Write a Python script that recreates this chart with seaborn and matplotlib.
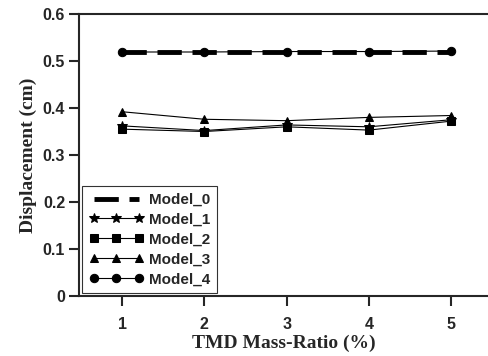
import numpy as np
import pandas as pd
import matplotlib
matplotlib.use("Agg")
import matplotlib.pyplot as plt
import seaborn as sns

mass_ratio = [1, 2, 3, 4, 5]
model_0 = [0.519, 0.519, 0.519, 0.519, 0.519]
model_1 = [0.362, 0.352, 0.364, 0.360, 0.375]
model_2 = [0.355, 0.350, 0.360, 0.353, 0.372]
model_3 = [0.392, 0.376, 0.373, 0.380, 0.384]
model_4 = [0.519, 0.519, 0.520, 0.520, 0.521]
names = ["Model_0", "Model_1", "Model_2", "Model_3", "Model_4"]
series = [model_0, model_1, model_2, model_3, model_4]

df = pd.DataFrame({
    "x": mass_ratio * 5,
    "y": sum(series, []),
    "model": sum([[n] * 5 for n in names], []),
})

sns.set_style("ticks")
plt.rcParams["font.family"] = ["Liberation Sans", "DejaVu Sans"]

fig = plt.figure(figsize=(4.88, 3.56), dpi=100)
ax = fig.add_axes([0.162, 0.168, 0.838, 0.793])

styles = {
    "Model_0": dict(marker=None, lw=3.5, zorder=3),
    "Model_1": dict(marker="*", ms=7, lw=0.8, zorder=4),
    "Model_2": dict(marker="s", ms=6, lw=0.8, zorder=4),
    "Model_3": dict(marker="^", ms=6, lw=0.8, zorder=4),
    "Model_4": dict(marker="o", ms=6, lw=0.8, zorder=2),
}
for n in names:
    st = dict(styles[n])
    sub = df[df.model == n]
    kw = dict(color="black", label=n, ax=ax, lw=st.pop("lw"), zorder=st.pop("zorder"))
    if st.get("marker"):
        kw.update(marker=st["marker"], markersize=st["ms"], markeredgecolor="black")
    sns.lineplot(data=sub, x="x", y="y", **kw)
for ln in ax.lines:
    if ln.get_label() == "Model_0":
        ln.set_dashes((5, 2.2))

ax.set_xlim(0.475, 5.45)
ax.set_ylim(0, 0.6)
ax.set_xticks(mass_ratio)
ax.set_yticks([0, 0.1, 0.2, 0.3, 0.4, 0.5, 0.6])
ax.set_yticklabels(["0", "0.1", "0.2", "0.3", "0.4", "0.5", "0.6"])
ax.tick_params(axis="both", direction="out", length=7, width=1.5, labelsize=11.5)
ax.tick_params(axis="x", pad=8)
ax.tick_params(axis="y", pad=3)
for lab in ax.get_xticklabels() + ax.get_yticklabels():
    lab.set_fontweight("bold")
ax.spines["right"].set_visible(False)
for s in ["left", "bottom", "top"]:
    ax.spines[s].set_linewidth(1.5)

ax.set_xlabel("TMD Mass-Ratio (%)", family="Liberation Serif", fontweight="bold", fontsize=14, labelpad=2)
ax.set_ylabel("Displacement (cm)", family="Liberation Serif", fontweight="bold", fontsize=14, labelpad=4)

leg = ax.legend(loc="lower left", frameon=True, fancybox=False, numpoints=3,
                prop={"weight": "bold", "size": 11}, handlelength=3.6,
                borderaxespad=0.2, labelspacing=0.38, handletextpad=0.3,
                borderpad=0.45)
leg.get_frame().set_edgecolor("black")
leg.get_frame().set_linewidth(0.8)

fig.savefig("out.png", dpi=100)
